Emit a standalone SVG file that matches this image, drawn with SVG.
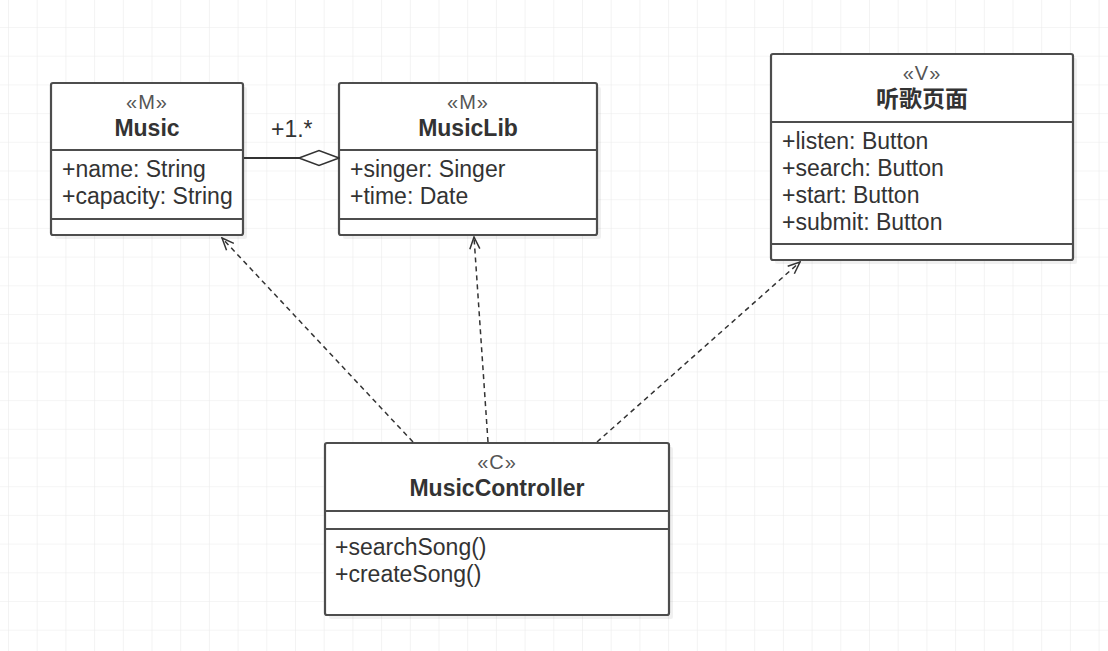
<svg xmlns="http://www.w3.org/2000/svg" width="1108" height="651" viewBox="0 0 1108 651">
<defs>
<pattern id="grid" x="8" y="27" width="28.7" height="28.7" patternUnits="userSpaceOnUse">
<path d="M0,0 H28.7 M0,0 V28.7" fill="none" stroke="#ececec" stroke-width="1.2"/>
</pattern>
<marker id="open" viewBox="0 0 14 12" refX="13" refY="6" markerWidth="14" markerHeight="12" markerUnits="userSpaceOnUse" orient="auto">
<path d="M1,1 L13,6 L1,11" fill="none" stroke="#333" stroke-width="1.5"/>
</marker>
<marker id="diamond" viewBox="0 0 42 18" refX="41" refY="9" markerWidth="42" markerHeight="18" markerUnits="userSpaceOnUse" orient="auto">
<path d="M1,9 L21,1.5 L41,9 L21,16.5 Z" fill="#fff" stroke="#333" stroke-width="1.6"/>
</marker>
</defs>
<style>
.box{fill:#fff;stroke:#4d4d4d;stroke-width:2.2}
.shadow{fill:#000;opacity:0.06}
.div{stroke:#4d4d4d;stroke-width:2.2}
.st{font-family:"Liberation Sans",Arial,sans-serif;font-size:20px;fill:#555;text-anchor:middle;letter-spacing:1px}
.ti{font-family:"Liberation Sans",Arial,"Noto Sans CJK SC",sans-serif;font-size:23px;font-weight:bold;fill:#333;text-anchor:middle}
.at{font-family:"Liberation Sans",Arial,sans-serif;font-size:23px;fill:#333}
.dep{fill:none;stroke:#333;stroke-width:1.5;stroke-dasharray:5,4;marker-end:url(#open)}
.agg{fill:none;stroke:#333;stroke-width:1.8;marker-end:url(#diamond)}
.lbl{font-family:"Liberation Sans",Arial,sans-serif;font-size:23px;fill:#333}
</style>
<rect width="1108" height="651" fill="#fff"/>
<rect width="1108" height="651" fill="url(#grid)"/>

<g id="Music">
<rect class="shadow" x="55" y="87" width="192" height="152" rx="2"/>
<rect class="box" x="51" y="83" width="192" height="152" rx="2"/>
<line class="div" x1="51" y1="150" x2="243" y2="150"/>
<line class="div" x1="51" y1="219" x2="243" y2="219"/>
<text class="st" x="147" y="109">«M»</text>
<text class="ti" x="147" y="136">Music</text>
<text class="at" x="62" y="177">+name: String</text>
<text class="at" x="62" y="204">+capacity: String</text>
</g>

<g id="MusicLib">
<rect class="shadow" x="343" y="87" width="258" height="152" rx="2"/>
<rect class="box" x="339" y="83" width="258" height="152" rx="2"/>
<line class="div" x1="339" y1="150" x2="597" y2="150"/>
<line class="div" x1="339" y1="219" x2="597" y2="219"/>
<text class="st" x="468" y="109">«M»</text>
<text class="ti" x="468" y="136">MusicLib</text>
<text class="at" x="350" y="177">+singer: Singer</text>
<text class="at" x="350" y="204">+time: Date</text>
</g>

<g id="ListenPage">
<rect class="shadow" x="775" y="58" width="302" height="206" rx="2"/>
<rect class="box" x="771" y="54" width="302" height="206" rx="2"/>
<line class="div" x1="771" y1="122" x2="1073" y2="122"/>
<line class="div" x1="771" y1="244" x2="1073" y2="244"/>
<text class="st" x="922" y="80">«V»</text>
<text class="ti" x="922" y="107" font-family="'Noto Sans CJK SC',sans-serif">听歌页面</text>
<text class="at" x="782" y="149">+listen: Button</text>
<text class="at" x="782" y="176">+search: Button</text>
<text class="at" x="782" y="203">+start: Button</text>
<text class="at" x="782" y="230">+submit: Button</text>
</g>

<g id="MusicController">
<rect class="shadow" x="329" y="447" width="344" height="172" rx="2"/>
<rect class="box" x="325" y="443" width="344" height="172" rx="2"/>
<line class="div" x1="325" y1="511" x2="669" y2="511"/>
<line class="div" x1="325" y1="529" x2="669" y2="529"/>
<text class="st" x="497" y="469">«C»</text>
<text class="ti" x="497" y="496">MusicController</text>
<text class="at" x="335" y="555">+searchSong()</text>
<text class="at" x="335" y="582">+createSong()</text>
</g>

<g id="connectors">
<line class="agg" x1="244" y1="158" x2="339" y2="158"/>
<text class="lbl" x="271" y="137">+1.*</text>
<line class="dep" x1="413" y1="442" x2="222" y2="238"/>
<line class="dep" x1="488" y1="442" x2="474" y2="237" stroke-dasharray="4,3" stroke-width="1.8"/>
<line class="dep" x1="597" y1="442" x2="800" y2="262"/>
</g>
</svg>
